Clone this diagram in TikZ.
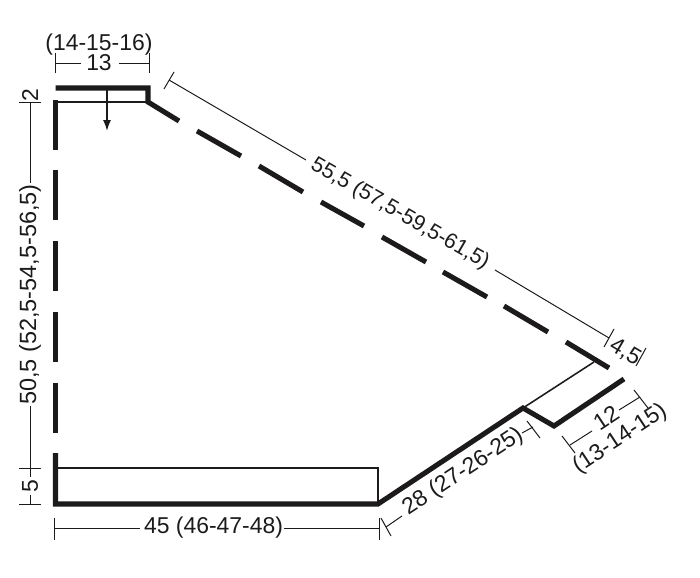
\documentclass[tikz,border=0pt]{standalone}
\usepackage{fontspec}
\setmainfont{Liberation Sans}
\usetikzlibrary{arrows.meta}
\definecolor{InkBlack}{HTML}{1C1A1B}
\tikzset{
  edgeline/.style={draw=InkBlack, line width=3.6pt},
  foldline/.style={draw=InkBlack, line width=1.1pt},
  dimline/.style={draw=InkBlack, line width=0.7pt},
  dimtext/.style={text=InkBlack, inner sep=0pt, font=\fontsize{16.3}{17}\selectfont},
}

\begin{document}
\begin{tikzpicture}[x=0.025cm,y=-0.025cm]
    \useasboundingbox (0,0) rectangle (700,578);

    % outline
    \draw[edgeline] (55.5,88) -- (148,88) -- (148,102) -- (179,121);
    \foreach \ya/\yb in {100/150,170/220,241/291,312/362,383/433}
      \draw[edgeline] (55.5,\ya) -- (55.5,\yb);
    \foreach \xa/\ya/\xb/\yb in {197/131/241/156,259/166/303/192,321/202/364/226,382/237/426/262,443/272/487/297,504/306/548/332,566/342/609/368}
      \draw[edgeline] (\xa,\ya) -- (\xb,\yb);
    \draw[edgeline] (55.5,453) -- (55.5,504) -- (378,504) -- (523,408) -- (554,426) -- (624,379);

    % inner lines
    \draw[foldline] (55.5,102) -- (148,102);
    \draw[foldline] (55.5,468) -- (378,468) -- (378,504);
    \draw[foldline] (523,408) -- (594,362);
    \draw[foldline, -{Latex[length=7.8pt,width=5.7pt]}] (107,88) -- (107,131);

    % top width
    \draw[dimline] (55.5,53) -- (55.5,73);
    \draw[dimline] (149,53) -- (149,73);
    \draw[dimline] (55.5,63) -- (81,63);
    \draw[dimline] (119,63) -- (149,63);
    \node[dimtext] (neck) at (99,63) {13};
    \node[dimtext] (necksizes) at (99,45) {(14-15-16)};

    % left side
    \draw[dimline] (19,102) -- (41,102);
    \draw[dimline] (19,468) -- (41,468);
    \draw[dimline] (19,504) -- (41,504);
    \draw[dimline] (30,102) -- (30,183);
    \draw[dimline] (30,406) -- (30,477);
    \draw[dimline] (30,495) -- (30,504);
    \node[dimtext, rotate=90] (collar) at (30,95) {2};
    \node[dimtext, rotate=90, font=\fontsize{16.7}{17}\selectfont] (height) at (30,294.5) {50,5 (52,5-54,5-56,5)};
    \node[dimtext, rotate=90] (hem) at (30,486) {5};

    % bottom
    \draw[dimline] (54,518) -- (54,540);
    \draw[dimline] (379,518) -- (379,540);
    \draw[dimline] (54,528) -- (140,528);
    \draw[dimline] (284,528) -- (379,528);
    \node[dimtext] (width) at (213.5,528) {45 (46-47-48)};

    % long slope
    \draw[dimline] (174,72) -- (164,89);
    \draw[dimline] (614,329) -- (604,347);
    \draw[dimline] (646,348) -- (636,366);
    \draw[dimline] (169,80) -- (306,160);
    \draw[dimline] (495,270) -- (609,338);
    \node[dimtext, rotate=-30, font=\fontsize{15.3}{17}\selectfont] (slope) at (400,214) {55,5 (57,5-59,5-61,5)};
    \node[dimtext, rotate=-30.4] (shoulder) at (625,352) {4,5};

    % lower slope
    \draw[dimline] (381,518) -- (391,536);
    \draw[dimline] (527,421) -- (540,438);
    \draw[dimline] (386,527) -- (402,516);
    \draw[dimline] (522,433) -- (533,427);
    \node[dimtext, rotate=33.4] (sleeve) at (463,472) {28 (27-26-25)};

    % cuff
    \draw[dimline] (562,436) -- (575,453);
    \draw[dimline] (634,390) -- (648,408);
    \draw[dimline] (570,445) -- (592,431);
    \draw[dimline] (619,410) -- (640,397);
    \node[dimtext, rotate=33.4] (cuff) at (606,418) {12};
    \node[dimtext, rotate=33.4] (cuffsizes) at (620,439) {(13-14-15)};
\end{tikzpicture}
\end{document}
